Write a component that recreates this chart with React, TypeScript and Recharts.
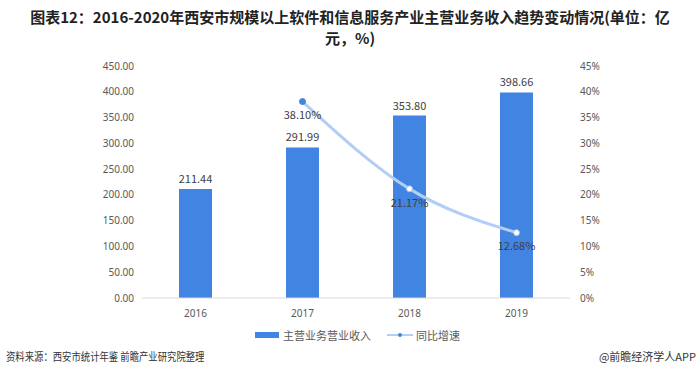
import React from 'react'
import {
  ComposedChart,
  Bar,
  Line,
  XAxis,
  YAxis,
  LabelList,
} from 'recharts'

const years = ['2016', '2017', '2018', '2019']
const revenue = [211.44, 291.99, 353.8, 398.66]
const growth: (number | null)[] = [null, 38.1, 21.17, 12.68]
const leftTicks = [0, 50, 100, 150, 200, 250, 300, 350, 400, 450]
const rightTicks = [0, 5, 10, 15, 20, 25, 30, 35, 40, 45]

const BAR_COLOR = '#4284e2'
const LINE_COLOR = '#b2cef4'
const TICK = { fill: '#595959', fontSize: 10, fontFamily: '"Noto Sans", sans-serif' }

const data = years.map((y, i) => ({ year: y, revenue: revenue[i], growth: growth[i] }))

const GrowthDot = (props: any) => {
  const { cx, cy, index } = props
  if (cx == null || cy == null) return null
  const first = index === 1
  return (
    <circle
      key={index}
      cx={cx}
      cy={cy}
      r={3}
      fill={first ? BAR_COLOR : '#fff'}
      stroke={first ? BAR_COLOR : '#9dbfee'}
      strokeWidth={1}
    />
  )
}

export default function App() {
  return (
    <div
      style={{
        position: 'fixed',
        left: 0,
        top: 0,
        width: 700,
        height: 382,
        background: '#fff',
        overflow: 'hidden',
        fontFamily: '"Noto Sans CJK SC", sans-serif',
      }}
    >
      <div
        style={{
          position: 'absolute',
          top: 6,
          left: 0,
          width: 700,
          textAlign: 'center',
          fontWeight: 'bold',
          fontSize: 15,
          lineHeight: '21px',
          color: '#222',
          fontFamily: '"Liberation Sans Narrow", "Noto Sans CJK SC", sans-serif',
        }}
      >
        <div>图表12：2016-2020年西安市规模以上软件和信息服务产业主营业务收入趋势变动情况(单位：亿</div>
        <div>元，%)</div>
      </div>

      <div style={{ position: 'absolute', left: 0, top: 0 }}>
        <ComposedChart
          width={700}
          height={382}
          data={data}
          margin={{ top: 66, right: 70, bottom: 54, left: 82 }}
        >
          <XAxis
            dataKey="year"
            axisLine={{ stroke: '#d9d9d9' }}
            tickLine={false}
            tick={TICK}
            tickMargin={6}
          />
          <YAxis
            yAxisId="left"
            domain={[0, 450]}
            ticks={leftTicks}
            axisLine={false}
            tickLine={false}
            tick={TICK}
            tickFormatter={(v: number) => v.toFixed(2)}
            width={60}
            interval={0}
          />
          <YAxis
            yAxisId="right"
            orientation="right"
            domain={[0, 45]}
            ticks={rightTicks}
            axisLine={false}
            tickLine={false}
            tick={{ ...TICK, textAnchor: 'start' }}
            tickFormatter={(v: number) => `${v}%`}
            width={60}
            tickMargin={4}
            interval={0}
          />
          <Bar
            yAxisId="left"
            dataKey="revenue"
            fill={BAR_COLOR}
            barSize={33}
            isAnimationActive={false}
          >
            <LabelList
              dataKey="revenue"
              position="top"
              offset={6}
              fill="#404040"
              fontSize={11}
              formatter={(v: any) => Number(v).toFixed(2)}
            />
          </Bar>
          <Line
            yAxisId="right"
            type="monotone"
            dataKey="growth"
            stroke={LINE_COLOR}
            strokeWidth={3}
            dot={<GrowthDot />}
            activeDot={false}
            connectNulls
            isAnimationActive={false}
          >
            <LabelList
              dataKey="growth"
              position="bottom"
              offset={10}
              fill="#404040"
              fontSize={11}
              formatter={(v: any) => (v == null ? '' : `${Number(v).toFixed(2)}%`)}
            />
          </Line>
        </ComposedChart>
      </div>

      {/* legend */}
      <div
        style={{
          position: 'absolute',
          top: 327,
          left: 255,
          display: 'flex',
          alignItems: 'center',
          fontSize: 11,
          color: '#595959',
          lineHeight: '16px',
        }}
      >
        <span style={{ display: 'inline-block', width: 24, height: 6, background: BAR_COLOR, marginRight: 4 }} />
        <span>主营业务营业收入</span>
        <svg width={26} height={10} style={{ marginLeft: 16, marginRight: 3 }}>
          <line x1={0} y1={5} x2={26} y2={5} stroke={LINE_COLOR} strokeWidth={2} />
          <circle cx={13} cy={5} r={2} fill={BAR_COLOR} />
        </svg>
        <span>同比增速</span>
      </div>

      {/* footer */}
      <div
        style={{
          position: 'absolute',
          top: 348,
          left: 6,
          fontSize: 11,
          color: '#333',
          lineHeight: '16px',
          whiteSpace: 'nowrap',
          transform: 'scaleX(0.85)',
          transformOrigin: 'left center',
        }}
      >
        资料来源：西安市统计年鉴 前瞻产业研究院整理
      </div>
      <div
        style={{
          position: 'absolute',
          top: 348,
          right: 4,
          fontSize: 11,
          color: '#333',
          lineHeight: '16px',
          whiteSpace: 'nowrap',
        }}
      >
        @前瞻经济学人APP
      </div>
    </div>
  )
}
